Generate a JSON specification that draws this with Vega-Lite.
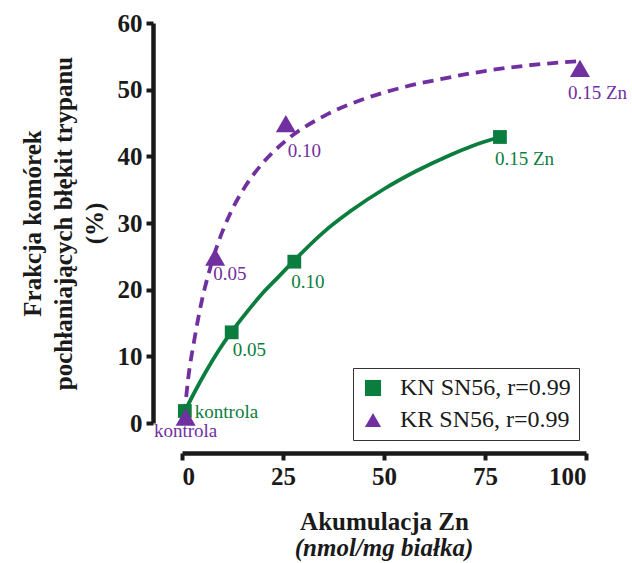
{
  "$schema": "https://vega.github.io/schema/vega-lite/v6.json",
  "width": 404,
  "height": 400,
  "autosize": {"type": "none"},
  "padding": {"left": 182, "top": 23, "right": 46, "bottom": 140},
  "background": "white",
  "title": {
    "text": "(nmol/mg białka)",
    "orient": "bottom",
    "anchor": "middle",
    "frame": "group",
    "font": "Liberation Serif",
    "fontSize": 25,
    "fontWeight": "bold",
    "fontStyle": "italic",
    "color": "#1a1a1a",
    "offset": 2
  },
  "config": {
    "view": {"stroke": null},
    "font": "Liberation Serif",
    "axis": {
      "grid": false,
      "domainColor": "#1a1a1a",
      "domainWidth": 4.5,
      "tickColor": "#1a1a1a",
      "tickWidth": 4,
      "tickSize": 7,
      "labelFont": "Liberation Serif",
      "labelFontSize": 25,
      "labelFontWeight": "bold",
      "labelColor": "#1a1a1a",
      "titleFont": "Liberation Serif",
      "titleFontSize": 25,
      "titleFontWeight": "bold",
      "titleColor": "#1a1a1a"
    },
    "legend": {
      "strokeColor": "#333333",
      "fillColor": "white",
      "padding": 8,
      "rowPadding": 8,
      "symbolSize": 260,
      "symbolStrokeWidth": 0,
      "symbolOffset": 0,
      "labelOffset": 15,
      "labelFont": "Liberation Serif",
      "labelFontSize": 24,
      "labelColor": "#1a1a1a",
      "labelLimit": 400
    }
  },
  "datasets": {
    "pts": [
      {"series": "KN SN56, r=0.99", "label": "kontrola", "x": 0.7, "y": 1.8},
      {"series": "KN SN56, r=0.99", "label": "0.05", "x": 12.3, "y": 13.6},
      {"series": "KN SN56, r=0.99", "label": "0.10", "x": 27.8, "y": 24.2},
      {"series": "KN SN56, r=0.99", "label": "0.15 Zn", "x": 78.7, "y": 42.9},
      {"series": "KR SN56, r=0.99", "label": "kontrola", "x": 0.9, "y": 0.9},
      {"series": "KR SN56, r=0.99", "label": "0.05", "x": 8.2, "y": 24.9},
      {"series": "KR SN56, r=0.99", "label": "0.10", "x": 25.7, "y": 44.9},
      {"series": "KR SN56, r=0.99", "label": "0.15 Zn", "x": 98.5, "y": 53.2}
    ],
    "fit": [
      {"series": "KN SN56, r=0.99", "x": 0.9, "y": 2.0},
      {"series": "KN SN56, r=0.99", "x": 3, "y": 4.5},
      {"series": "KN SN56, r=0.99", "x": 6, "y": 7.8},
      {"series": "KN SN56, r=0.99", "x": 9, "y": 10.8},
      {"series": "KN SN56, r=0.99", "x": 12.3, "y": 13.7},
      {"series": "KN SN56, r=0.99", "x": 16, "y": 16.6},
      {"series": "KN SN56, r=0.99", "x": 20, "y": 19.5},
      {"series": "KN SN56, r=0.99", "x": 24, "y": 22.0},
      {"series": "KN SN56, r=0.99", "x": 27.8, "y": 24.4},
      {"series": "KN SN56, r=0.99", "x": 35, "y": 28.6},
      {"series": "KN SN56, r=0.99", "x": 42, "y": 31.9},
      {"series": "KN SN56, r=0.99", "x": 50, "y": 35.1},
      {"series": "KN SN56, r=0.99", "x": 58, "y": 37.8},
      {"series": "KN SN56, r=0.99", "x": 66, "y": 40.1},
      {"series": "KN SN56, r=0.99", "x": 72, "y": 41.6},
      {"series": "KN SN56, r=0.99", "x": 78.7, "y": 42.9},
      {"series": "KR SN56, r=0.99", "x": 0.6, "y": 1.2},
      {"series": "KR SN56, r=0.99", "x": 1.5, "y": 6.5},
      {"series": "KR SN56, r=0.99", "x": 3, "y": 12.3},
      {"series": "KR SN56, r=0.99", "x": 5, "y": 18.6},
      {"series": "KR SN56, r=0.99", "x": 7, "y": 23.3},
      {"series": "KR SN56, r=0.99", "x": 9, "y": 27.1},
      {"series": "KR SN56, r=0.99", "x": 12, "y": 31.5},
      {"series": "KR SN56, r=0.99", "x": 16, "y": 35.8},
      {"series": "KR SN56, r=0.99", "x": 20, "y": 39.0},
      {"series": "KR SN56, r=0.99", "x": 26, "y": 42.5},
      {"series": "KR SN56, r=0.99", "x": 35, "y": 46.0},
      {"series": "KR SN56, r=0.99", "x": 45, "y": 48.6},
      {"series": "KR SN56, r=0.99", "x": 55, "y": 50.4},
      {"series": "KR SN56, r=0.99", "x": 65, "y": 51.7},
      {"series": "KR SN56, r=0.99", "x": 75, "y": 52.8},
      {"series": "KR SN56, r=0.99", "x": 85, "y": 53.6},
      {"series": "KR SN56, r=0.99", "x": 98.5, "y": 54.3}
    ]
  },
  "encoding": {
    "x": {
      "field": "x",
      "type": "quantitative",
      "scale": {"domain": [0, 100], "nice": false, "zero": false},
      "axis": {
        "title": "Akumulacja Zn",
        "values": [0, 25, 50, 75, 100],
        "offset": 30,
        "labelPadding": 4,
        "titlePadding": 20
      }
    },
    "y": {
      "field": "y",
      "type": "quantitative",
      "scale": {"domain": [0, 60], "nice": false},
      "axis": {
        "title": ["Frakcja komórek", "pochłaniających błękit trypanu", "(%)"],
        "titleLineHeight": 31,
        "values": [0, 10, 20, 30, 40, 50, 60],
        "offset": 29,
        "labelPadding": 4,
        "titlePadding": 10
      }
    }
  },
  "layer": [
    {
      "data": {"name": "fit"},
      "transform": [{"filter": "datum.series == 'KN SN56, r=0.99'"}],
      "mark": {"type": "line", "interpolate": "monotone", "strokeWidth": 3.8, "color": "#0b7d3e"},
      "encoding": {}
    },
    {
      "data": {"name": "fit"},
      "transform": [{"filter": "datum.series == 'KR SN56, r=0.99'"}],
      "mark": {"type": "line", "interpolate": "monotone", "strokeWidth": 3.8, "strokeDash": [11, 7], "color": "#7030a0"},
      "encoding": {}
    },
    {
      "data": {"name": "pts"},
      "transform": [{"filter": "datum.series == 'KN SN56, r=0.99'"}],
      "mark": {"type": "point", "filled": true, "opacity": 1, "size": 190},
      "encoding": {
        "color": {
          "field": "series",
          "type": "nominal",
          "scale": {"domain": ["KN SN56, r=0.99", "KR SN56, r=0.99"], "range": ["#0b7d3e", "#7030a0"]},
          "legend": {"orient": "none", "legendX": 171, "legendY": 345, "title": null}
        },
        "shape": {
          "field": "series",
          "type": "nominal",
          "scale": {"domain": ["KN SN56, r=0.99", "KR SN56, r=0.99"], "range": ["square", "triangle-up"]},
          "legend": {"orient": "none", "legendX": 171, "legendY": 345, "title": null}
        }
      }
    },
    {
      "data": {"name": "pts"},
      "transform": [{"filter": "datum.series == 'KR SN56, r=0.99'"}],
      "mark": {"type": "point", "filled": true, "opacity": 1, "size": 400},
      "encoding": {
        "color": {
          "field": "series",
          "type": "nominal",
          "scale": {"domain": ["KN SN56, r=0.99", "KR SN56, r=0.99"], "range": ["#0b7d3e", "#7030a0"]},
          "legend": {"orient": "none", "legendX": 171, "legendY": 345, "title": null}
        },
        "shape": {
          "field": "series",
          "type": "nominal",
          "scale": {"domain": ["KN SN56, r=0.99", "KR SN56, r=0.99"], "range": ["square", "triangle-up"]},
          "legend": {"orient": "none", "legendX": 171, "legendY": 345, "title": null}
        }
      }
    },
    {
      "data": {"name": "pts"},
      "transform": [{"filter": "datum.series == 'KN SN56, r=0.99' && datum.label == 'kontrola'"}],
      "mark": {"type": "text", "align": "left", "baseline": "middle", "dx": 10, "dy": 1, "fontSize": 19, "color": "#0b7d3e"},
      "encoding": {"text": {"field": "label"}}
    },
    {
      "data": {"name": "pts"},
      "transform": [{"filter": "datum.series == 'KN SN56, r=0.99' && datum.label == '0.05'"}],
      "mark": {"type": "text", "align": "left", "baseline": "middle", "dx": 1, "dy": 18, "fontSize": 19, "color": "#0b7d3e"},
      "encoding": {"text": {"field": "label"}}
    },
    {
      "data": {"name": "pts"},
      "transform": [{"filter": "datum.series == 'KN SN56, r=0.99' && datum.label == '0.10'"}],
      "mark": {"type": "text", "align": "left", "baseline": "middle", "dx": -3, "dy": 20, "fontSize": 19, "color": "#0b7d3e"},
      "encoding": {"text": {"field": "label"}}
    },
    {
      "data": {"name": "pts"},
      "transform": [{"filter": "datum.series == 'KN SN56, r=0.99' && datum.label == '0.15 Zn'"}],
      "mark": {"type": "text", "align": "left", "baseline": "middle", "dx": -5, "dy": 22, "fontSize": 19, "color": "#0b7d3e"},
      "encoding": {"text": {"field": "label"}}
    },
    {
      "data": {"name": "pts"},
      "transform": [{"filter": "datum.series == 'KR SN56, r=0.99' && datum.label == 'kontrola'"}],
      "mark": {"type": "text", "align": "center", "baseline": "middle", "dx": 0, "dy": 14, "fontSize": 19, "color": "#7030a0"},
      "encoding": {"text": {"field": "label"}}
    },
    {
      "data": {"name": "pts"},
      "transform": [{"filter": "datum.series == 'KR SN56, r=0.99' && datum.label == '0.05'"}],
      "mark": {"type": "text", "align": "left", "baseline": "middle", "dx": -2, "dy": 17, "fontSize": 19, "color": "#7030a0"},
      "encoding": {"text": {"field": "label"}}
    },
    {
      "data": {"name": "pts"},
      "transform": [{"filter": "datum.series == 'KR SN56, r=0.99' && datum.label == '0.10'"}],
      "mark": {"type": "text", "align": "left", "baseline": "middle", "dx": 2, "dy": 27, "fontSize": 19, "color": "#7030a0"},
      "encoding": {"text": {"field": "label"}}
    },
    {
      "data": {"name": "pts"},
      "transform": [{"filter": "datum.series == 'KR SN56, r=0.99' && datum.label == '0.15 Zn'"}],
      "mark": {"type": "text", "align": "left", "baseline": "middle", "dx": -12, "dy": 25, "fontSize": 19, "color": "#7030a0"},
      "encoding": {"text": {"field": "label"}}
    }
  ]
}
